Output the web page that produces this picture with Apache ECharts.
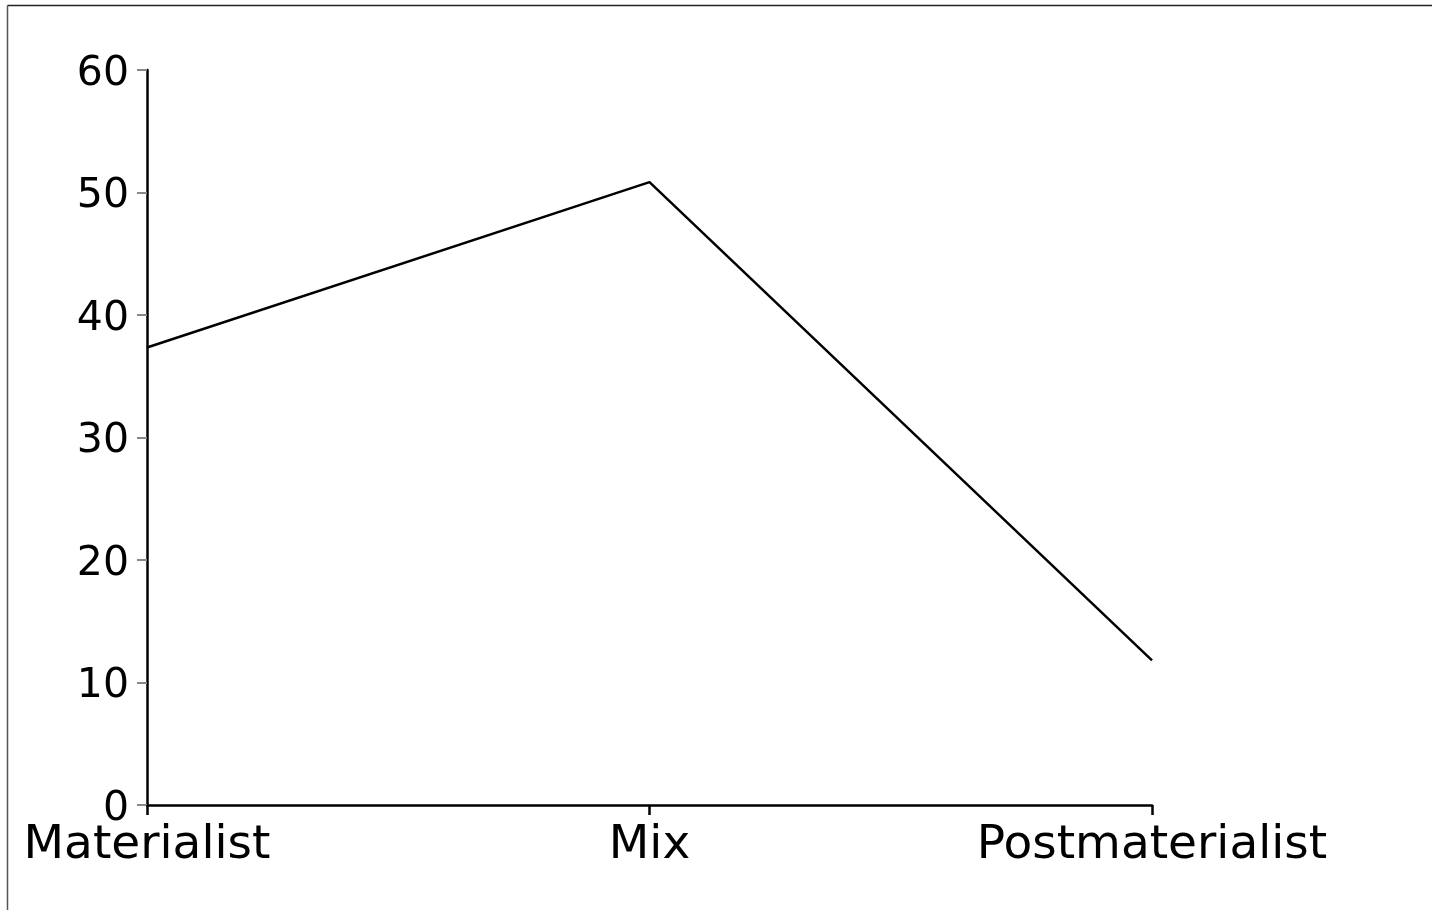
<!DOCTYPE html>
<html><head><meta charset="utf-8">
<script src="https://cdn.jsdelivr.net/npm/echarts@6/dist/echarts.min.js"></script>
<style>html,body{margin:0;padding:0;background:#fff}#c{width:1432px;height:910px}</style>
</head><body><div id="c"></div>
<script>
const categories = ['Materialist', 'Mix', 'Postmaterialist'];
const values = [37.35, 50.85, 11.8];
const yTicks = [0, 10, 20, 30, 40, 50, 60];

const chart = echarts.init(document.getElementById('c'), null, {renderer: 'canvas'});
chart.setOption({
  animation: false,
  backgroundColor: '#fff',
  grid: {left: 147, right: 280, top: 70, bottom: 105},
  graphic: [
    {type: 'line', shape: {x1: 7.5, y1: 5.5, x2: 1432, y2: 5.5}, style: {stroke: '#222', lineWidth: 1.5}},
    {type: 'line', shape: {x1: 7.5, y1: 5.5, x2: 7.5, y2: 910}, style: {stroke: '#555', lineWidth: 1.5}}
  ],
  xAxis: {
    type: 'category', data: categories, boundaryGap: false,
    axisLine: {lineStyle: {color: '#000', width: 2.5}},
    axisTick: {show: true, length: 10, alignWithLabel: true, lineStyle: {color: '#000', width: 2.5}},
    axisLabel: {color: '#000', fontSize: 47, fontFamily: 'DejaVu Sans', margin: 17}
  },
  yAxis: {
    type: 'value', min: 0, max: 60, interval: 10,
    splitLine: {show: false},
    axisLine: {show: true, lineStyle: {color: '#000', width: 2.5}},
    axisTick: {show: true, length: 10, lineStyle: {color: '#888', width: 2}},
    axisLabel: {color: '#000', fontSize: 41, fontFamily: 'DejaVu Sans', margin: 18,
      formatter: v => yTicks.includes(v) ? '{a|' + v + '}' : '',
      rich: {a: {fontSize: 41, fontFamily: 'DejaVu Sans', color: '#000', padding: [8, 0, 0, 0]}}}
  },
  series: [{
    type: 'line', data: values, symbol: 'none',
    lineStyle: {color: '#000', width: 2.5}
  }]
});
</script></body></html>
